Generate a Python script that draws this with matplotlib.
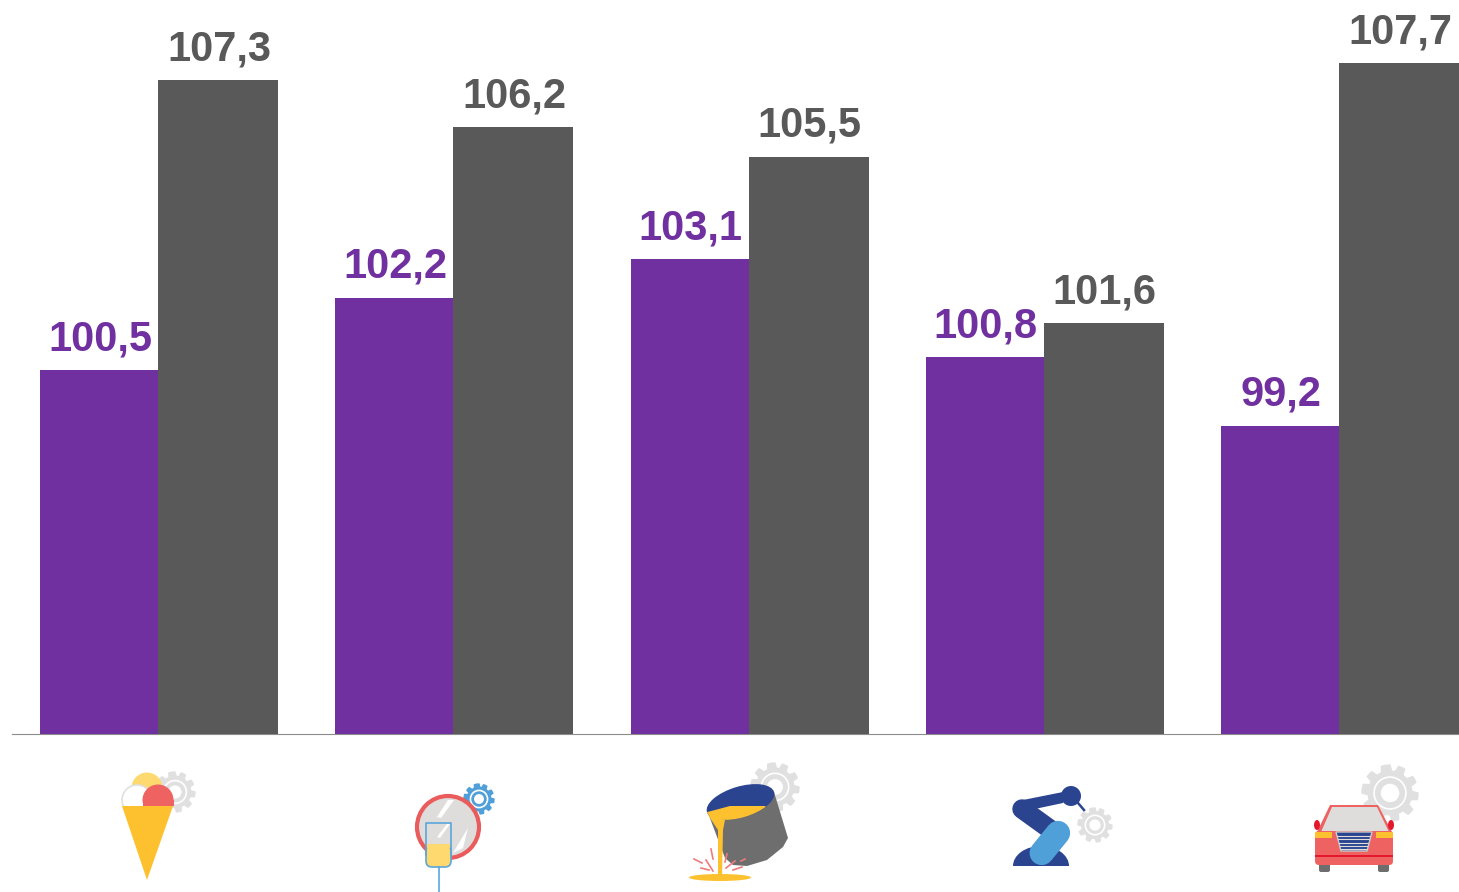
import numpy as np
import matplotlib
matplotlib.use("Agg")
import matplotlib.pyplot as plt
from matplotlib.patches import Circle, Ellipse, Polygon, Rectangle, FancyBboxPatch

plt.rcParams["font.family"] = ["Liberation Sans", "DejaVu Sans"]

# Values
positions = [0, 1, 2, 3, 4]
series_a = [100.5, 102.2, 103.1, 100.8, 99.2]
series_b = [107.3, 106.2, 105.5, 101.6, 107.7]
labels_a = ["100,5", "102,2", "103,1", "100,8", "99,2"]
labels_b = ["107,3", "106,2", "105,5", "101,6", "107,7"]

PURPLE = "#7030A0"
GREY = "#595959"
NAVY = "#2B4490"
SKY = "#4F9FD9"
RED = "#EE6262"
GOLD = "#FDC12F"
PALE = "#FDD96F"
SILVER = "#dedddc"
W, H = 1459, 892

fig = plt.figure(figsize=(W / 100, H / 100), dpi=100)
ax = fig.add_axes([12 / W, 1 - 734 / H, (W - 12) / W, 734 / H])

x = np.array(positions)
ax.bar(x - 0.2, series_a, width=0.4, color=PURPLE, zorder=3)
ax.bar(x + 0.203, series_b, width=0.406, color=GREY, zorder=3)
ax.set_xlim(-0.495, 4.406)
ax.set_ylim(91.97, 109.18)
ax.set_xticks([])
ax.set_yticks([])
for side in ["top", "left", "right"]:
    ax.spines[side].set_visible(False)
ax.spines["bottom"].set_color("#8c8c8c")
ax.spines["bottom"].set_linewidth(0.8)
ax.spines["bottom"].set_zorder(1)

for xi, v, t in zip(x, series_a, labels_a):
    ax.annotate(t, (xi - 0.2, v), xytext=(1, 11), textcoords="offset pixels", ha="center", va="bottom",
                fontsize=30, fontweight="bold", color=PURPLE, zorder=4)
for xi, v, t in zip(x, series_b, labels_b):
    ax.annotate(t, (xi + 0.203, v), xytext=(1, 11), textcoords="offset pixels", ha="center", va="bottom",
                fontsize=30, fontweight="bold", color=GREY, zorder=4)

# Overlay in pixel coordinates for the icons under the bars
ic = fig.add_axes([0, 0, 1, 1], facecolor="none")
ic.set_xlim(0, W)
ic.set_ylim(H, 0)
ic.axis("off")


def gear(cx, cy, r, color="#e0e0e0", teeth=10):
    # toothed outline, white hub and thin inner ring
    ang = np.linspace(0, 2 * np.pi, teeth * 8, endpoint=False)
    rad = np.where((ang * teeth / (2 * np.pi)) % 1 < 0.5, r, r * 0.78)
    ic.add_patch(Polygon(np.c_[cx + rad * np.cos(ang), cy + rad * np.sin(ang)], fc=color, ec=color, lw=1, joinstyle="round"))
    ic.add_patch(Circle((cx, cy), r * 0.57, fc="none", ec="white", lw=1.2))
    ic.add_patch(Circle((cx, cy), r * 0.33, fc="white", ec="none"))


# ice cream
gear(175, 792, 20)
ic.add_patch(Circle((147, 788), 15.5, fc=PALE, ec="none"))
ic.add_patch(Circle((137, 800), 15, fc="white", ec="#e0e0e0", lw=1.2))
ic.add_patch(Circle((158, 800), 15.5, fc=RED, ec="none"))
ic.add_patch(Rectangle((142.5, 800), 31, 6, fc=RED, ec="none"))
ic.add_patch(Rectangle((118, 806), 24, 12, fc="white", ec="none"))
ic.add_patch(Polygon([(122, 806), (173, 806), (147, 880)], fc=GOLD, ec="none"))

# glass and mirror
gear(479, 799, 15, color=SKY)
ic.add_patch(Circle((448, 827), 31, fc=SILVER, ec="#EA5C5C", lw=3))
ic.add_patch(Polygon([(437, 817), (448, 800), (454, 800), (441, 818)], fc="white", ec="none"))
ic.add_patch(Polygon([(453, 853), (468, 828), (463, 848)], fc="white", ec="none"))
ic.add_patch(Rectangle((426, 823), 25, 24, fc=SILVER, ec="none"))
ic.add_patch(Polygon([(437, 837), (447, 824), (450, 824), (440, 838)], fc="white", ec="none"))
ic.add_patch(FancyBboxPatch((426, 850), 25, 17, boxstyle="round,pad=0,rounding_size=6", fc=PALE, ec="none"))
ic.add_patch(Rectangle((426, 845), 25, 12, fc=PALE, ec="none"))
ic.plot([426, 426, 451, 451], [855, 823, 823, 855], color="#5BA6DC", lw=1.2)
ic.add_patch(FancyBboxPatch((426, 845), 25, 22, boxstyle="round,pad=0,rounding_size=6", fc="none", ec="#5BA6DC", lw=1.2))
ic.add_patch(Rectangle((427, 844), 23, 4, fc=PALE, ec="none"))
ic.plot([438.5, 438.5], [867, 892], color="#5BA6DC", lw=1.2)

# foundry ladle
gear(775, 787, 24)
ic.add_patch(Polygon([(708, 813), (725, 858), (733, 865), (747, 866), (767, 860), (783, 847), (788, 838), (774, 792)],
                     fc="#6E6E6E", ec="none"))
mouth = Ellipse((740.5, 802), 70, 31, angle=-16.6, fc=NAVY, ec="none")
ic.add_patch(mouth)
melt = Polygon([(700, 814), (730, 806), (765, 806), (790, 830), (700, 840)], fc=GOLD, ec="none")
ic.add_patch(melt)
melt.set_clip_path(mouth)
ic.add_patch(Polygon([(708, 815), (725, 820), (723, 830), (722, 878), (718, 878), (718, 830)], fc=GOLD, ec="none"))
ic.add_patch(Ellipse((720, 877.5), 62, 7, fc=GOLD, ec="none"))
for x0, y0, x1, y1 in [(694, 859, 702, 863), (701, 868, 709, 870), (706, 860, 713, 871), (711, 849, 713, 859),
                       (727, 854, 725, 862), (726, 868, 735, 861), (733, 870, 742, 867), (741, 861, 745, 859)]:
    ic.plot([x0, x1], [y0, y1], color="#EE7B7B", lw=1.2)

# robot arm
gear(1095, 825, 17)
ic.add_patch(Ellipse((1041, 866), 56, 40, fc=NAVY, ec="none"))
ic.add_patch(Rectangle((1010, 866), 62, 22, fc="white", ec="none"))
ic.add_patch(Polygon([(1023, 800), (1063, 792), (1063, 803), (1030, 810)], fc=NAVY, ec="none"))
ic.add_patch(Circle((1071, 796), 10, fc=NAVY, ec="none"))
ic.plot([1078, 1084], [803, 810], color=NAVY, lw=1.8)
ic.plot([1022, 1058], [809, 835], color=NAVY, lw=14, solid_capstyle="round")
ic.add_patch(Circle((1021.7, 809), 5.5, fc=SKY, ec="none"))
ic.plot([1058, 1041.7], [833, 853], color=SKY, lw=17.5, solid_capstyle="round")
ic.add_patch(Circle((1057.7, 833), 7.7, fc=NAVY, ec="none"))

# car
gear(1390, 793, 28)
ic.add_patch(Polygon([(1317, 832), (1330, 805), (1378, 805), (1392, 832)], fc=RED, ec="none"))
ic.add_patch(Polygon([(1321, 832), (1332, 807), (1377, 807), (1389, 832)], fc=SILVER, ec="none"))
ic.add_patch(Ellipse((1317, 825), 6, 10, fc="#E3182D", ec="none"))
ic.add_patch(Ellipse((1391, 825), 6, 10, fc="#E3182D", ec="none"))
ic.add_patch(FancyBboxPatch((1319, 860), 11, 12, boxstyle="round,pad=0,rounding_size=2", fc="#6E6E6E", ec="none"))
ic.add_patch(FancyBboxPatch((1378, 860), 11, 12, boxstyle="round,pad=0,rounding_size=2", fc="#6E6E6E", ec="none"))
ic.add_patch(FancyBboxPatch((1315, 831), 78, 34, boxstyle="round,pad=0,rounding_size=4", fc=RED, ec="none"))
ic.add_patch(Rectangle((1315, 855), 78, 2, fc="#E3182D", ec="none"))
ic.add_patch(Rectangle((1315, 832), 17, 6, fc=GOLD, ec="none"))
ic.add_patch(Rectangle((1376, 832), 17, 6, fc=GOLD, ec="none"))
grille = Polygon([(1336, 832), (1372, 832), (1367, 851), (1341, 851)], fc=NAVY, ec="#c9c9c9", lw=1)
ic.add_patch(grille)
for yy in [835.5, 839, 842.5, 846, 849]:
    line, = ic.plot([1336, 1372], [yy, yy], color=SILVER, lw=0.8)
    line.set_clip_path(grille)

fig.savefig("out.png", dpi=100, facecolor="white")
